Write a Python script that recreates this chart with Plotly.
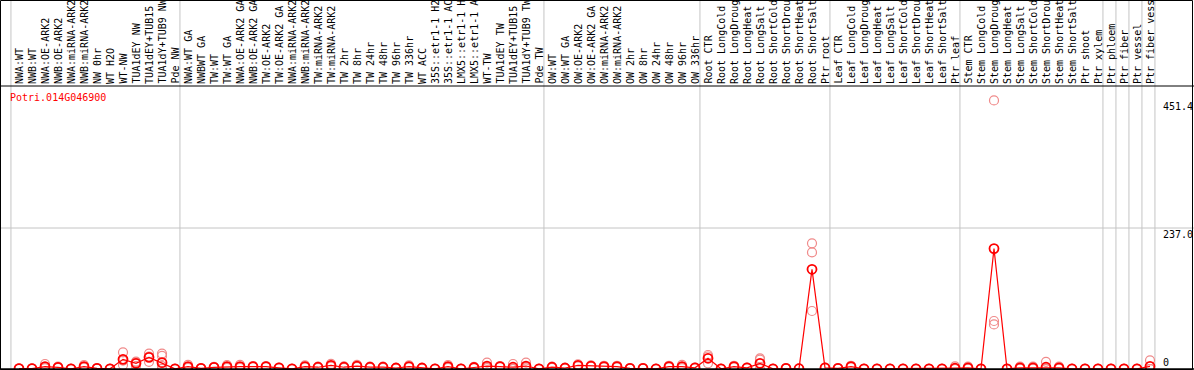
import plotly.graph_objects as go

title_text = "Potri.014G046900"

labels = [
    "NWA:WT", "NWB:WT", "NWA:OE-ARK2", "NWB:OE-ARK2", "NWA:miRNA-ARK2", "NWB:miRNA-ARK2",
    "NW 0hr", "WT H2O", "WT-NW", "TUA1dEY NW", "TUA1dEY+TUB15", "TUA1dY+TUB9 NW", "Pde NW",
    "NWA:WT GA", "NWBWT GA", "TW:WT", "TW:WT GA", "NWA:OE-ARK2 GA", "NWB:OE-ARK2 GA",
    "TW:OE-ARK2", "TW:OE-ARK2 GA", "NWA:miRNA-ARK2", "NWB:miRNA-ARK2", "TW:miRNA-ARK2",
    "TW:miRNA-ARK2", "TW 2hr", "TW 8hr", "TW 24hr", "TW 48hr", "TW 96hr", "TW 336hr",
    "WT ACC", "35S::etr1-1 H2", "35S::etr1-1 AC", "LMX5::etr1-1 H", "LMX5::etr1-1 A",
    "WT-TW", "TUA1dEY TW", "TUA1dEY+TUB15", "TUA1dY+TUB9 TW", "Pde TW",
    "OW:WT", "OW:WT GA", "OW:OE-ARK2", "OW:OE-ARK2 GA", "OW:miRNA-ARK2", "OW:miRNA-ARK2",
    "OW 2hr", "OW 8hr", "OW 24hr", "OW 48hr", "OW 96hr", "OW 336hr",
    "Root CTR", "Root LongCold", "Root LongDroug", "Root LongHeat", "Root LongSalt",
    "Root ShortCold", "Root ShortDrou", "Root ShortHeat", "Root ShortSalt", "Ptr root",
    "Leaf CTR", "Leaf LongCold", "Leaf LongDroug", "Leaf LongHeat", "Leaf LongSalt",
    "Leaf ShortCold", "Leaf ShortDrou", "Leaf ShortHeat", "Leaf ShortSalt", "Ptr leaf",
    "Stem CTR", "Stem LongCold", "Stem LongDroug", "Stem LongHeat", "Stem LongSalt",
    "Stem ShortCold", "Stem ShortDrou", "Stem ShortHeat", "Stem ShortSalt", "Ptr shoot",
    "Ptr xylem", "Ptr phloem", "Ptr fiber", "Ptr vessel", "Ptr fiber vess",
]

group_sizes = [13, 28, 12, 10, 10, 11, 1, 1, 1, 1]

mean_values = [
    0.6, 0.6, 3.9, 2.8, 0.3, 3.9, 1.0, 0.3, 16.2, 9.5,
    19.6, 10.6, 0.3, 3.9, 1.0, 2.8, 3.9, 3.9, 3.9, 3.9,
    2.0, 0.3, 4.0, 3.0, 6.0, 3.0, 5.0, 3.0, 3.0, 1.7,
    4.0, 1.7, 0.3, 4.0, 0.3, 2.5, 5.0, 4.0, 3.0, 5.0,
    0.3, 3.0, 1.7, 6.0, 5.0, 4.0, 4.0, 1.0, 1.0, 0.3,
    4.0, 4.0, 2.0, 18.0, 0.3, 4.0, 2.0, 9.5, 0.3, 1.0,
    0.5, 167.6, 2.0, 1.0, 4.0, 0.3, 0.3, 0.3, 0.3, 0.3,
    0.3, 0.3, 1.5, 2.0, 0.3, 202.4, 0.3, 2.0, 2.0, 3.0,
    2.0, 0.3, 0.3, 0.3, 0.3, 0.3, 0.3, 4.5,
]

replicates = [
    [0.6, 0.6, 0.6], [0.6, 0.6, 0.6], [8.4, 1.6, 1.7], [4.0, 2.5, 2.0], [0.3, 0.3, 0.3],
    [6.5, 3.0, 2.2], [1.0, 1.0, 1.0], [0.3, 0.3, 0.3], [28.0, 14.0, 6.7], [11.0, 12.5, 5.0],
    [26.0, 21.0, 12.0], [26.0, 22.0, 5.0, 0.6, 0.0], [0.3, 0.3, 0.3], [7.0, 3.0, 1.7], [1.0, 1.0, 1.0],
    [3.5, 2.8, 2.1], [6.5, 3.5, 1.7], [7.0, 3.0, 1.7], [5.0, 3.5, 3.2], [5.0, 3.5, 3.2],
    [2.5, 2.0, 1.5], [0.3, 0.3, 0.3], [6.0, 3.5, 2.5], [4.0, 3.0, 2.0], [8.5, 5.5, 4.0],
    [4.5, 2.5, 2.0], [7.0, 4.5, 3.5], [4.0, 3.0, 2.0], [4.0, 3.0, 2.0], [2.0, 1.7, 1.4],
    [6.0, 3.5, 2.5], [2.0, 1.7, 1.4], [0.3, 0.3, 0.3], [6.5, 3.5, 2.0], [0.3, 0.3, 0.3],
    [3.5, 2.5, 1.5], [10.6, 3.0, 1.4], [5.0, 4.0, 3.0], [8.4, 0.3, 0.3], [10.6, 3.2, 1.2],
    [0.3, 0.3, 0.3], [4.0, 3.0, 2.0], [2.0, 1.7, 1.4], [8.0, 5.5, 4.5], [6.0, 5.0, 4.0],
    [5.5, 4.0, 2.5], [5.5, 4.0, 2.5], [1.5, 1.0, 0.5], [1.5, 1.0, 0.5], [0.3, 0.3, 0.3],
    [5.5, 4.0, 2.5], [7.0, 3.5, 1.5], [2.5, 2.0, 1.5], [23.5, 21.0, 9.5], [0.3, 0.3, 0.3],
    [5.5, 4.0, 2.5], [2.5, 2.0, 1.5], [18.0, 15.7, 0.3], [0.3, 0.3, 0.3], [1.5, 1.0, 0.5],
    [0.5, 0.5, 0.5], [211.3, 196.0, 97.5], [2.5, 2.0, 1.5], [1.5, 1.0, 0.5], [5.5, 4.0, 2.5],
    [0.3, 0.3, 0.3], [0.3, 0.3, 0.3], [0.3, 0.3, 0.3], [0.3, 0.3, 0.3], [0.3, 0.3, 0.3],
    [0.3, 0.3, 0.3], [0.3, 0.3, 0.3], [4.5, 0.3, 0.0], [4.0, 1.5, 0.5], [0.3, 0.3, 0.3],
    [451.4, 80.7, 75.0], [0.3, 0.3, 0.3], [4.0, 1.5, 0.5], [4.0, 1.5, 0.5], [12.0, 0.5, 0.0],
    [4.0, 1.5, 0.5], [0.3, 0.3, 0.3], [0.3, 0.3, 0.3], [0.3, 0.3, 0.3], [0.3, 0.3, 0.3],
    [0.3, 0.3, 0.3], [0.3, 0.3, 0.3], [14.5, 0.0, 0.0],
]

axis_tick_values = [451.4, 237.0, 0]
axis_tick_text = ["451.4", "237.0", "0"]
grid_values = [237.0]

# ---------------- layout geometry ----------------
W, H = 1194, 370
first_px, step_px = 19.0, 13.0          # pixel of first sample, pixel per sample
base_px, units_per_px = 369.0, 1.681    # pixel of value 0, data units per pixel
header_px = 86.0                         # divider between label header and plot

x_range = [(0 - first_px) / step_px, (W - first_px) / step_px]
y_range = [(base_px - H) * units_per_px, base_px * units_per_px]

def py(p):  # pixel row -> paper y
    return 1 - p / H

def px(p):  # pixel col -> paper x
    return p / W

n = len(labels)
xs = list(range(n))

rep_x, rep_y = [], []
for i, reps in enumerate(replicates):
    for v in reps:
        rep_x.append(i)
        rep_y.append(v)

fig = go.Figure()
fig.add_trace(go.Scatter(
    x=rep_x, y=rep_y, mode="markers",
    marker=dict(symbol="circle-open", size=9, color="#f08a8a", line=dict(width=1.2)),
    hoverinfo="skip", showlegend=False,
))
fig.add_trace(go.Scatter(
    x=xs, y=mean_values, mode="lines+markers",
    line=dict(color="#ff0000", width=1.2),
    marker=dict(symbol="circle-open", size=9, color="#ff0000", line=dict(width=1.8)),
    showlegend=False,
))

shapes = []
# group separators
bounds = [-0.62]
c = 0
for g in group_sizes:
    c += g
    bounds.append(c - 0.62)
for b in bounds:
    shapes.append(dict(type="line", xref="x", yref="paper", x0=b, x1=b, y0=0, y1=1,
                       line=dict(color="#c4c4c4", width=1), layer="below"))
# value grid lines
for gv in grid_values:
    shapes.append(dict(type="line", xref="paper", yref="y", x0=0, x1=1, y0=gv, y1=gv,
                       line=dict(color="#c4c4c4", width=1), layer="below"))
# header divider and baseline
shapes.append(dict(type="line", xref="paper", yref="paper", x0=0, x1=1,
                   y0=py(header_px), y1=py(header_px), line=dict(color="black", width=1)))
shapes.append(dict(type="line", xref="paper", yref="y", x0=0, x1=1, y0=0, y1=0,
                   line=dict(color="black", width=1.5)))
# outer frame
shapes.append(dict(type="rect", xref="paper", yref="paper",
                   x0=px(0.5), x1=px(W - 1.5), y0=py(H - 0.5), y1=py(0.5),
                   line=dict(color="black", width=1)))

annotations = []
font_mono = "DejaVu Sans Mono"
for i, lab in enumerate(labels):
    annotations.append(dict(
        x=i, xref="x", y=py(header_px - 1), yref="paper",
        text=lab, textangle=-90, showarrow=False,
        xanchor="center", yanchor="bottom",
        font=dict(family=font_mono, size=10, color="black"),
        borderpad=0,
    ))
annotations.append(dict(
    x=px(9), y=py(97), xref="paper", yref="paper", text=title_text,
    showarrow=False, xanchor="left", yanchor="middle",
    font=dict(family=font_mono, size=10, color="#ff0000"), borderpad=0,
))
for v, t in zip(axis_tick_values, axis_tick_text):
    annotations.append(dict(
        x=px(1162), xref="paper", y=v, yref="y", text=t, showarrow=False,
        xanchor="left", yanchor=("bottom" if v == 0 else "top"),
        font=dict(family=font_mono, size=10, color="black"), borderpad=0,
    ))

fig.update_layout(
    width=W, height=H,
    margin=dict(l=0, r=0, t=0, b=0),
    paper_bgcolor="white", plot_bgcolor="white",
    xaxis=dict(range=x_range, visible=False, fixedrange=True),
    yaxis=dict(range=y_range, visible=False, fixedrange=True),
    shapes=shapes, annotations=annotations,
    showlegend=False,
)

fig.write_html(
    "out.html",
    config={"displayModeBar": False},
    post_script="document.body.style.margin='0';document.body.style.overflow='hidden';",
)
